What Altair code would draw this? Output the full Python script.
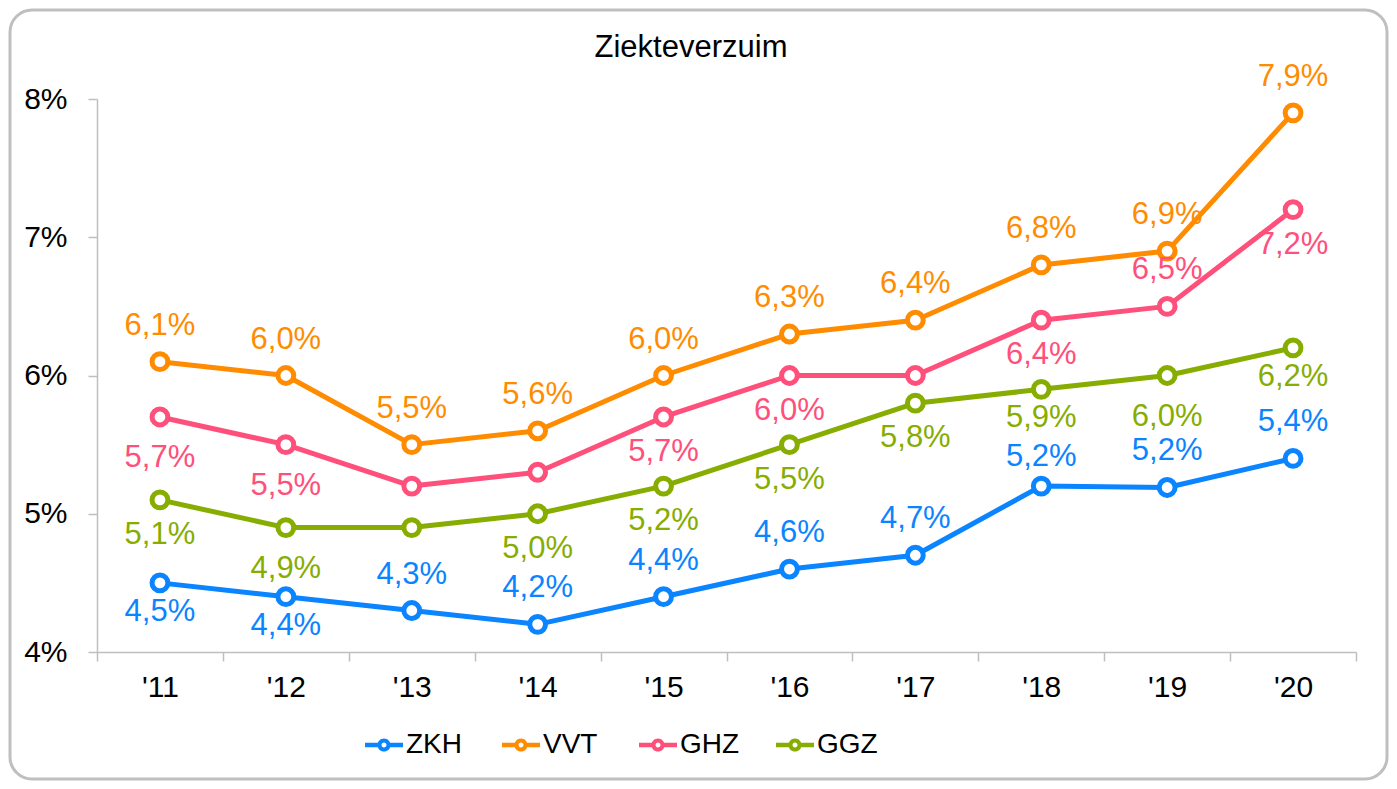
import altair as alt
import pandas as pd

# ---- data ----
years = ["'11", "'12", "'13", "'14", "'15", "'16", "'17", "'18", "'19", "'20"]
series = ["ZKH", "VVT", "GHZ", "GGZ"]
colors = ["#0A84FF", "#FF8C00", "#FF4F7B", "#86AD00"]

zkh = [4.5, 4.4, 4.3, 4.2, 4.4, 4.6, 4.7, 5.2, 5.19, 5.4]
vvt = [6.1, 6.0, 5.5, 5.6, 6.0, 6.3, 6.4, 6.8, 6.9, 7.9]
ghz = [5.7, 5.5, 5.2, 5.3, 5.7, 6.0, 6.0, 6.4, 6.5, 7.2]
ggz = [5.1, 4.9, 4.9, 5.0, 5.2, 5.5, 5.8, 5.9, 6.0, 6.2]

# label placement per point (as in the reference); "none" = label not shown there
zkh_pos = ["below_near", "below_near", "above", "above", "above", "above", "above",
           "above_near", "above", "above"]
vvt_pos = ["above"] * 10
ghz_pos = ["below_far", "below_far", "none", "none", "below", "below", "none",
           "below", "above", "below"]
ggz_pos = ["below", "below_far", "none", "below", "below", "below", "below",
           "below_near", "below_far", "below_near"]

y_ticks = [4, 5, 6, 7, 8]
title_text = "Ziekteverzuim"

rows = []
for name, vals, poss in [("ZKH", zkh, zkh_pos), ("VVT", vvt, vvt_pos),
                         ("GHZ", ghz, ghz_pos), ("GGZ", ggz, ggz_pos)]:
    for yr, v, p in zip(years, vals, poss):
        rows.append({"year": yr, "series": name, "value": v, "pos": p,
                     "label": f"{v:.1f}".replace(".", ",") + "%"})
df = pd.DataFrame(rows)

FONT = "Liberation Sans, Arial, Helvetica, sans-serif"
GREY = "#BFBFBF"
W, H = 1259, 553
LABEL_DY = {"above": -36, "above_near": -29, "below": 35, "below_near": 29, "below_far": 41}

x_enc = alt.X(
    "year:N", sort=years, bandPosition=0.5,
    scale=alt.Scale(type="band", paddingInner=0, paddingOuter=0),
    axis=alt.Axis(title=None, labelAngle=0, tickBand="extent", grid=False, zindex=1,
                  domainColor=GREY, domainWidth=1.5, tickColor=GREY, tickWidth=1.5,
                  tickSize=9, labelFontSize=30, labelFont=FONT, labelColor="black",
                  labelPadding=11),
)
y_enc = alt.Y(
    "value:Q",
    scale=alt.Scale(domain=[4, 8], nice=False, zero=False),
    axis=alt.Axis(title=None, values=y_ticks, labelExpr="datum.value + '%'", grid=False,
                  zindex=1,
                  domainColor=GREY, domainWidth=1.5, tickColor=GREY, tickWidth=1.5,
                  tickSize=9, labelFontSize=30, labelFont=FONT, labelColor="black",
                  labelPadding=21),
)
color_scale = alt.Scale(domain=series, range=colors)

# legend symbol drawn as a filled shape: two short bars plus a ring with a hole
legend_path = (
    "M-1,-0.12H-0.325V0.12H-1Z"
    "M0.325,-0.12H1V0.12H0.325Z"
    "M0.345,0A0.345,0.345,0,1,1,-0.345,0A0.345,0.345,0,1,1,0.345,0Z"
    "M0.13,0A0.13,0.13,0,1,0,-0.13,0A0.13,0.13,0,1,0,0.13,0Z"
)

base = alt.Chart(df)

border = alt.Chart(alt.Data(values=[{"b": 1}])).mark_rect(
    fill="white", fillOpacity=0, stroke=GREY, strokeWidth=3, cornerRadius=22
).encode(x=alt.value(-87), x2=alt.value(W + 31), y=alt.value(-89), y2=alt.value(H + 127))

title = alt.Chart(alt.Data(values=[{"t": title_text}])).mark_text(
    font=FONT, fontSize=31, color="black", baseline="alphabetic", align="center"
).encode(text="t:N", x=alt.value(594), y=alt.value(-42))

lines = base.mark_line(strokeWidth=5, strokeJoin="round", strokeCap="round").encode(
    x=x_enc, y=y_enc,
    color=alt.Color("series:N", scale=color_scale, sort=series,
                    legend=alt.Legend(title=None, orient="none", legendX=268, legendY=627,
                                      direction="horizontal", columns=4, gridAlign="all",
                                      symbolType=legend_path, symbolSize=1444,
                                      symbolStrokeWidth=0,
                                      labelFont=FONT, labelFontSize=28,
                                      labelColor="black", labelOffset=3,
                                      columnPadding=35)),
    detail="series:N",
)

points = base.mark_point(shape="circle", filled=False, fill="white", opacity=1,
                         size=250, strokeWidth=5).encode(
    x=x_enc, y=y_enc,
    color=alt.Color("series:N", scale=color_scale, legend=None),
)

label_layers = []
for pos, dy in LABEL_DY.items():
    label_layers.append(
        base.transform_filter(alt.datum.pos == pos).mark_text(
            font=FONT, fontSize=31, baseline="middle", dy=dy
        ).encode(x=x_enc, y=y_enc, text="label:N",
                 color=alt.Color("series:N", scale=color_scale, legend=None))
    )

chart = alt.layer(border, lines, points, *label_layers, title).properties(
    width=W, height=H,
    autosize=alt.AutoSizeParams(type="none"),
    padding={"left": 89, "top": 91, "right": 33, "bottom": 129},
    background="white",
).configure_view(stroke=None)

chart.save("out.html", embed_options={"renderer": "svg", "actions": False})
